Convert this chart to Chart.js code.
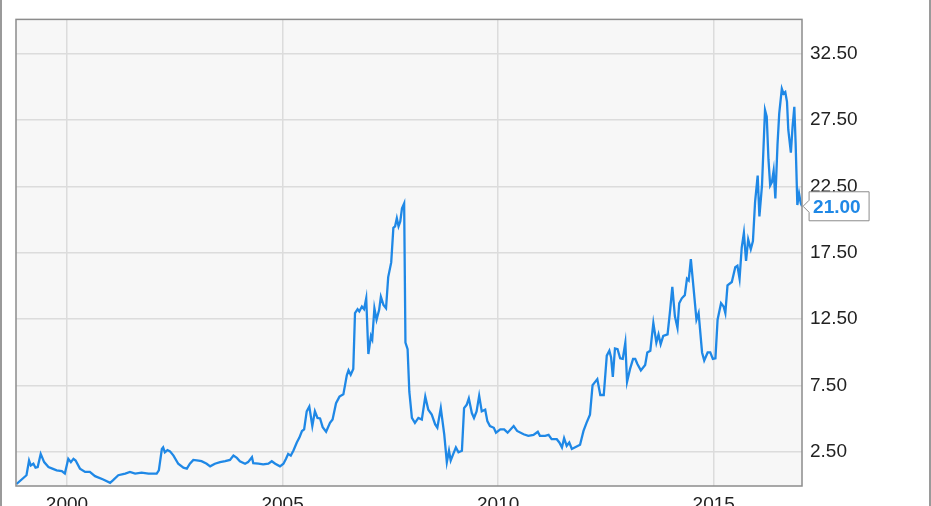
<!DOCTYPE html>
<html>
<head>
<meta charset="utf-8">
<script src="https://cdn.jsdelivr.net/npm/chart.js@4"></script>
<style>
    html, body { margin: 0; padding: 0; background: #fff; }
    #wrap { position: relative; width: 931px; height: 506px; }
</style>
</head>
<body>
<div id="wrap"><canvas id="priceChart"></canvas></div>
<script>
// Price history, decimal years
const dates = [
    1998.83, 1999.06, 1999.12, 1999.16, 1999.22, 1999.27, 1999.32, 1999.39, 1999.47, 1999.57,
    1999.66, 1999.76, 1999.88, 1999.95, 2000.03, 2000.09, 2000.15, 2000.20, 2000.30, 2000.42,
    2000.53, 2000.65, 2000.84, 2001.00, 2001.07, 2001.19, 2001.35, 2001.46, 2001.58, 2001.73,
    2001.89, 2002.08, 2002.13, 2002.20, 2002.23, 2002.27, 2002.33, 2002.39, 2002.47, 2002.58,
    2002.70, 2002.78, 2002.85, 2002.93, 2003.05, 2003.12, 2003.24, 2003.32, 2003.43, 2003.55,
    2003.67, 2003.78, 2003.86, 2003.94, 2004.01, 2004.13, 2004.20, 2004.29, 2004.32, 2004.44,
    2004.55, 2004.67, 2004.75, 2004.83, 2004.94, 2005.02, 2005.08, 2005.13, 2005.19, 2005.25,
    2005.33, 2005.39, 2005.45, 2005.50, 2005.56, 2005.62, 2005.69, 2005.75, 2005.81, 2005.87,
    2005.93, 2006.01, 2006.10, 2006.16, 2006.24, 2006.32, 2006.41, 2006.49, 2006.53, 2006.58,
    2006.64, 2006.68, 2006.74, 2006.78, 2006.84, 2006.89, 2006.94, 2006.99, 2007.05, 2007.08,
    2007.13, 2007.18, 2007.24, 2007.28, 2007.34, 2007.40, 2007.45, 2007.52, 2007.57, 2007.61,
    2007.65, 2007.69, 2007.73, 2007.77, 2007.82, 2007.85, 2007.90, 2007.94, 2008.00, 2008.07,
    2008.15, 2008.23, 2008.31, 2008.38, 2008.46, 2008.54, 2008.59, 2008.67, 2008.75, 2008.81,
    2008.86, 2008.90, 2008.96, 2009.02, 2009.08, 2009.16, 2009.21, 2009.27, 2009.32, 2009.39,
    2009.44, 2009.50, 2009.56, 2009.62, 2009.70, 2009.75, 2009.81, 2009.90, 2009.95, 2010.05,
    2010.14, 2010.22, 2010.36, 2010.44, 2010.59, 2010.70, 2010.82, 2010.92, 2010.97, 2011.09,
    2011.17, 2011.24, 2011.36, 2011.42, 2011.48, 2011.53, 2011.59, 2011.65, 2011.71, 2011.81,
    2011.90, 2011.98, 2012.05, 2012.13, 2012.19, 2012.25, 2012.30, 2012.37, 2012.45, 2012.52,
    2012.58, 2012.62, 2012.66, 2012.71, 2012.77, 2012.83, 2012.89, 2012.95, 2012.99, 2013.06,
    2013.13, 2013.18, 2013.23, 2013.31, 2013.41, 2013.46, 2013.53, 2013.60, 2013.67, 2013.72,
    2013.77, 2013.83, 2013.93, 2013.99, 2014.04, 2014.10, 2014.16, 2014.20, 2014.26, 2014.33,
    2014.38, 2014.42, 2014.47, 2014.53, 2014.60, 2014.65, 2014.73, 2014.78, 2014.86, 2014.92,
    2014.98, 2015.04, 2015.09, 2015.17, 2015.23, 2015.27, 2015.32, 2015.42, 2015.50, 2015.55,
    2015.60, 2015.65, 2015.70, 2015.75, 2015.80, 2015.86, 2015.91, 2015.96, 2016.02, 2016.06,
    2016.12, 2016.19, 2016.23, 2016.27, 2016.31, 2016.35, 2016.39, 2016.43, 2016.48, 2016.52,
    2016.58, 2016.62, 2016.66, 2016.70, 2016.73, 2016.79, 2016.83, 2016.87, 2016.90, 2016.94,
    2016.98, 2017.02, 2017.05
];

const prices = [
    0.06, 0.72, 1.83, 1.46, 1.59, 1.29, 1.34, 2.33, 1.71, 1.34,
    1.22, 1.09, 1.04, 0.85, 1.96, 1.71, 1.96, 1.83, 1.22, 0.97,
    0.97, 0.65, 0.40, 0.15, 0.35, 0.72, 0.85, 0.97, 0.85, 0.92,
    0.85, 0.85, 1.09, 2.70, 2.82, 2.45, 2.62, 2.52, 2.20, 1.59,
    1.29, 1.22, 1.59, 1.88, 1.83, 1.78, 1.59, 1.39, 1.59, 1.71,
    1.78, 1.88, 2.20, 2.03, 1.78, 1.59, 1.71, 2.08, 1.63, 1.59,
    1.54, 1.59, 1.78, 1.59, 1.39, 1.59, 1.96, 2.33, 2.20, 2.57,
    3.19, 3.56, 4.06, 4.18, 5.54, 5.90, 4.43, 5.54, 5.04, 5.00,
    4.35, 4.00, 4.67, 4.92, 6.15, 6.65, 6.82, 8.25, 8.63, 8.30,
    8.74, 12.94, 13.24, 13.07, 13.44, 13.24, 14.06, 9.86, 11.22, 10.97,
    13.31, 12.45, 13.19, 14.18, 13.56, 13.31, 15.66, 16.77, 19.37, 19.49,
    20.10, 19.49, 19.86, 20.85, 21.22, 10.72, 10.23, 7.02, 5.04, 4.67,
    5.04, 4.92, 6.65, 5.66, 5.29, 4.55, 4.30, 5.78, 3.81, 1.71,
    2.57, 1.83, 2.33, 2.82, 2.45, 2.57, 5.78, 6.03, 6.52, 5.41,
    5.04, 5.54, 6.72, 5.54, 5.66, 4.80, 4.43, 4.30, 3.93, 4.18,
    4.18, 3.93, 4.43, 4.06, 3.81, 3.69, 3.76, 4.00, 3.69, 3.69,
    3.76, 3.44, 3.44, 3.19, 2.82, 3.51, 2.94, 3.19, 2.70, 2.87,
    3.02, 4.06, 4.67, 5.29, 7.51, 7.76, 7.96, 6.77, 6.77, 9.74,
    10.11, 9.61, 8.13, 10.28, 10.23, 9.54, 9.49, 10.72, 7.76, 8.74,
    9.49, 9.49, 9.11, 8.63, 9.04, 9.98, 10.11, 12.20, 10.72, 11.34,
    10.60, 11.22, 11.34, 13.19, 14.92, 12.70, 11.83, 13.69, 14.06, 14.30,
    15.54, 15.41, 17.02, 14.92, 12.45, 12.94, 9.98, 9.37, 9.98, 9.98,
    9.49, 9.54, 12.45, 13.69, 13.44, 12.94, 15.04, 15.29, 16.40, 16.52,
    15.54, 17.89, 19.00, 16.89, 18.50, 17.76, 18.37, 21.34, 23.31, 20.23,
    22.57, 28.26, 27.76, 24.55, 22.57, 22.82, 23.69, 21.59, 25.66, 28.00,
    29.86, 29.49, 29.61, 28.87, 26.77, 25.04, 27.02, 28.50, 25.78, 21.09,
    21.96, 21.22, 21.00
];

const xTickYears = [2000, 2005, 2010, 2015];
const yTickValues = [2.5, 7.5, 12.5, 17.5, 22.5, 27.5, 32.5];
const lastPriceLabel = '21.00';

const lineColor = '#1f88e6';
const fontFamily = '"Liberation Sans", Arial, sans-serif';

const framePlugin = {
    id: 'frame',
    beforeDraw(chart) {
        const { ctx, chartArea: a } = chart;
        ctx.save();
        ctx.fillStyle = '#ffffff';
        ctx.fillRect(0, 0, chart.width, chart.height);
        ctx.fillStyle = '#f7f7f7';
        ctx.fillRect(a.left, a.top, a.right - a.left, a.bottom - a.top);
        // outer page edges
        ctx.fillStyle = '#9a9a9a';
        ctx.fillRect(0, 0, 2, chart.height);
        ctx.fillRect(chart.width - 2, 0, 2, chart.height);
        ctx.restore();
    },
    afterDraw(chart) {
        const { ctx, chartArea: a } = chart;
        ctx.save();
        ctx.strokeStyle = '#8c8c8c';
        ctx.lineWidth = 1.5;
        ctx.strokeRect(a.left, a.top, a.right - a.left, a.bottom - a.top);

        // last price callout
        const xs = chart.scales.x, ys = chart.scales.y;
        const px = xs.getPixelForValue(dates[dates.length - 1]);
        const py = ys.getPixelForValue(prices[prices.length - 1]);
        const bx = px + 7, bw = 60, bh = 29, by = py - bh / 2;
        ctx.beginPath();
        ctx.moveTo(bx, by);
        ctx.lineTo(bx + bw, by);
        ctx.lineTo(bx + bw, by + bh);
        ctx.lineTo(bx, by + bh);
        ctx.lineTo(bx, py + 6);
        ctx.lineTo(px + 1, py);
        ctx.lineTo(bx, py - 6);
        ctx.closePath();
        ctx.fillStyle = '#ffffff';
        ctx.fill();
        ctx.strokeStyle = '#8c8c8c';
        ctx.lineWidth = 1;
        ctx.stroke();
        ctx.fillStyle = lineColor;
        ctx.font = 'bold 19px ' + fontFamily;
        ctx.textBaseline = 'middle';
        ctx.textAlign = 'left';
        ctx.fillText(lastPriceLabel, bx + 4, py + 1);
        ctx.restore();
    }
};

new Chart(document.getElementById('priceChart'), {
    type: 'line',
    data: {
        datasets: [{
            data: dates.map((d, i) => ({ x: d, y: prices[i] })),
            borderColor: lineColor,
            borderWidth: 2.3,
            pointRadius: 0,
            tension: 0,
            fill: false
        }]
    },
    options: {
        responsive: true,
        maintainAspectRatio: false,
        animation: false,
        events: [],
        layout: { padding: { left: 16, top: 11, right: 0, bottom: 0 } },
        plugins: { legend: { display: false }, tooltip: { enabled: false } },
        scales: {
            x: {
                type: 'linear',
                min: 1998.817,
                max: 2017.048,
                afterBuildTicks: (scale) => { scale.ticks = xTickYears.map(v => ({ value: v })); },
                afterFit: (scale) => { scale.height = 20; },
                grid: { color: '#dcdcdc', lineWidth: 1.5, drawTicks: false },
                border: { display: false },
                ticks: {
                    padding: 7,
                    color: '#222',
                    font: { family: fontFamily, size: 19 },
                    maxRotation: 0,
                    callback: (v) => String(v)
                }
            },
            y: {
                position: 'right',
                min: -0.09,
                max: 35.09,
                afterBuildTicks: (scale) => { scale.ticks = yTickValues.map(v => ({ value: v })); },
                afterFit: (scale) => { scale.width = 129; },
                grid: { color: '#dcdcdc', lineWidth: 1.5, drawTicks: false },
                border: { display: false },
                ticks: {
                    padding: 8,
                    color: '#222',
                    font: { family: fontFamily, size: 19 },
                    callback: (v) => v.toFixed(2)
                }
            }
        }
    },
    plugins: [framePlugin]
});
</script>
</body>
</html>
